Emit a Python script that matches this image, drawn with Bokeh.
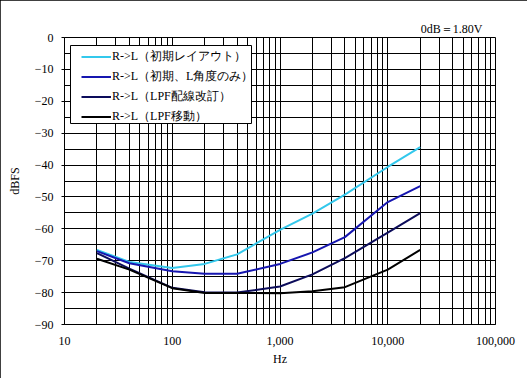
from bokeh.plotting import figure
from bokeh.models import FixedTicker, NumeralTickFormatter, Legend, LegendItem, BoxAnnotation
from bokeh.embed import file_html
from bokeh.resources import INLINE

# Data
freq = [20, 40, 100, 200, 400, 1000, 2000, 4000, 10000, 20000]
initial_layout = [-66.6, -70.4, -72.3, -71.0, -68.0, -60.3, -55.2, -49.3, -40.6, -34.4]
initial_l_angle = [-67.0, -70.8, -73.3, -74.1, -74.1, -71.0, -67.4, -62.6, -51.6, -46.6]
lpf_wiring = [-67.6, -72.5, -78.5, -79.9, -80.0, -78.1, -74.3, -69.2, -61.2, -55.1]
lpf_move = [-69.4, -72.8, -78.6, -80.1, -80.1, -80.2, -79.6, -78.3, -72.8, -66.6]

series_labels = ["R->L（初期レイアウト）", "R->L（初期、L角度のみ）", "R->L（LPF配線改訂）", "R->L（LPF移動）"]
series_colors = ["#33C8EC", "#1616B0", "#0C0C5A", "#000000"]

x_major = [10, 100, 1000, 10000, 100000]
x_minor = [m * d for d in [10, 100, 1000, 10000] for m in range(2, 10)]
y_major = list(range(-90, 1, 10))
y_minor = list(range(-85, 0, 10))

SERIF = "Liberation Serif"

p = figure(frame_width=431, frame_height=287, x_axis_type="log", x_range=(10, 100000), y_range=(-90, 0),
           output_backend="svg", toolbar_location=None,
           min_border_left=64, min_border_right=32, min_border_top=37, min_border_bottom=54,
           styles={"outline": "1px solid black", "outline-offset": "-1px"})

p.title.text = "0dB＝1.80V"
p.title.align = "right"
p.title.text_font = SERIF
p.title.text_font_size = "12px"
p.title.text_font_style = "normal"
p.title.text_color = "black"
p.title.offset = 13
p.title.standoff = 4

p.outline_line_color = "black"
p.outline_line_width = 1
p.outline_line_alpha = 1

p.xaxis.ticker = FixedTicker(ticks=x_major, minor_ticks=x_minor)
p.yaxis.ticker = FixedTicker(ticks=y_major, minor_ticks=y_minor)
p.xaxis.formatter = NumeralTickFormatter(format="0,0")

for ax in [p.xaxis[0], p.yaxis[0]]:
    ax.axis_line_color = "black"
    ax.major_tick_line_color = "black"
    ax.major_label_text_font = SERIF
    ax.major_label_text_font_size = "12px"
    ax.major_label_text_color = "black"
    ax.axis_label_text_font = SERIF
    ax.axis_label_text_font_size = "12px"
    ax.axis_label_text_font_style = "normal"
    ax.axis_label_text_color = "black"
    ax.minor_tick_in = 0
    ax.minor_tick_out = 0
    ax.major_tick_in = 0

p.xaxis.major_tick_out = 0
p.xaxis.major_label_standoff = 12
p.xaxis.axis_label = "Hz"
p.xaxis.axis_label_standoff = 4
p.yaxis.major_tick_out = 3
p.yaxis.major_label_standoff = 8
p.yaxis.axis_label = "dBFS"
p.yaxis.axis_label_standoff = 10

for g in [p.xgrid[0], p.ygrid[0]]:
    g.grid_line_color = "black"
    g.grid_line_alpha = 1
    g.grid_line_width = 1
    g.minor_grid_line_color = "black"
    g.minor_grid_line_alpha = 1
    g.minor_grid_line_width = 1

items = []
for vals, lab, col in zip([initial_layout, initial_l_angle, lpf_wiring, lpf_move], series_labels, series_colors):
    r = p.line(freq, vals, line_color=col, line_width=2)
    items.append(LegendItem(label=lab, renderers=[r]))

# legend frame (white box with black border), screen units relative to the plot frame
legend_box = BoxAnnotation(left=6, right=187, top=279, bottom=201,
                           left_units="screen", right_units="screen",
                           top_units="screen", bottom_units="screen",
                           fill_color="white", fill_alpha=1,
                           line_color="black", line_width=1, line_alpha=1)
p.add_layout(legend_box)

legend = Legend(items=items, location=(17, 198))
legend.label_text_font = SERIF
legend.label_text_font_size = "12px"
legend.label_text_color = "black"
legend.label_height = 19
legend.glyph_height = 19
legend.glyph_width = 30
legend.label_standoff = 1
legend.spacing = 1
legend.padding = 0
legend.margin = 0
legend.border_line_color = None
legend.background_fill_alpha = 0
p.add_layout(legend, "center")

open("out.html", "w").write(file_html(p, INLINE))
